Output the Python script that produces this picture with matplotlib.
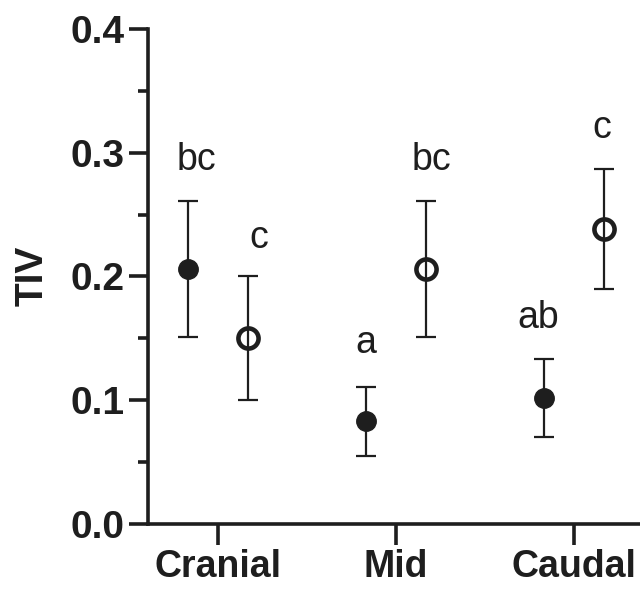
import matplotlib
matplotlib.use("Agg")
import matplotlib.pyplot as plt
import numpy as np
from matplotlib.ticker import MultipleLocator

categories = ["Cranial", "Mid", "Caudal"]
filled_mean = [0.206, 0.083, 0.102]
filled_low = [0.151, 0.055, 0.070]
filled_high = [0.261, 0.111, 0.133]
open_mean = [0.150, 0.206, 0.238]
open_low = [0.100, 0.151, 0.190]
open_high = [0.200, 0.261, 0.287]
filled_letters = ["bc", "a", "ab"]
open_letters = ["c", "bc", "c"]
filled_letter_y = [0.286, 0.138, 0.158]
open_letter_y = [0.223, 0.286, 0.312]

col = "#1e1e1e"
plt.rcParams['font.family'] = ['Liberation Sans', 'DejaVu Sans']

fig = plt.figure(figsize=(6.4, 5.9), dpi=100)
ax = fig.add_axes([0.231, 0.112, 0.769, 0.839])

x = np.arange(len(categories))
off = 0.168
xf = x - off
xo = x + off

fm = np.array(filled_mean)
om = np.array(open_mean)
ax.errorbar(xf, fm, yerr=[fm - np.array(filled_low), np.array(filled_high) - fm],
            fmt='none', ecolor=col, capsize=7, elinewidth=1.6, capthick=1.6, zorder=2)
ax.errorbar(xo, om, yerr=[om - np.array(open_low), np.array(open_high) - om],
            fmt='none', ecolor=col, capsize=7, elinewidth=1.6, capthick=1.6, zorder=2)
ax.plot(xf, fm, 'o', ms=14, mfc=col, mec=col, zorder=3, linestyle='none')
ax.plot(xo, om, 'o', ms=14.5, mfc='none', mec=col, mew=3.3, zorder=3, linestyle='none')

fnudge = [0.05, 0.0, -0.03]
onudge = [0.06, 0.03, -0.01]
for i in range(len(categories)):
    ax.text(xf[i] + fnudge[i], filled_letter_y[i], filled_letters[i], ha='center',
            va='baseline', fontsize=27, color=col)
    ax.text(xo[i] + onudge[i], open_letter_y[i], open_letters[i], ha='center',
            va='baseline', fontsize=27, color=col)

ax.set_ylim(0, 0.4)
ax.set_xlim(-0.393, 2.371)
ax.yaxis.set_minor_locator(MultipleLocator(0.05))
ax.set_yticks([0.0, 0.1, 0.2, 0.3, 0.4])
ax.set_yticklabels(["0.0", "0.1", "0.2", "0.3", "0.4"])
ax.set_xticks(x)
ax.set_xticklabels(categories)

for s in ['top', 'right']:
    ax.spines[s].set_visible(False)
for s in ['left', 'bottom']:
    ax.spines[s].set_linewidth(2.6)
    ax.spines[s].set_color(col)

ax.tick_params(axis='y', which='major', length=14, width=2.6, color=col, pad=3,
               labelsize=28)
ax.tick_params(axis='y', which='minor', length=7, width=2.6, color=col)
ax.tick_params(axis='x', which='major', length=15, width=2.6, color=col, pad=3,
               labelsize=27)
for lab in ax.get_xticklabels() + ax.get_yticklabels():
    lab.set_fontweight('bold')
    lab.set_color(col)

ax.set_ylabel("TIV", fontsize=28, fontweight='bold', color=col)
ax.yaxis.set_label_coords(-0.197, 0.502)

fig.savefig("out.png", dpi=100)
